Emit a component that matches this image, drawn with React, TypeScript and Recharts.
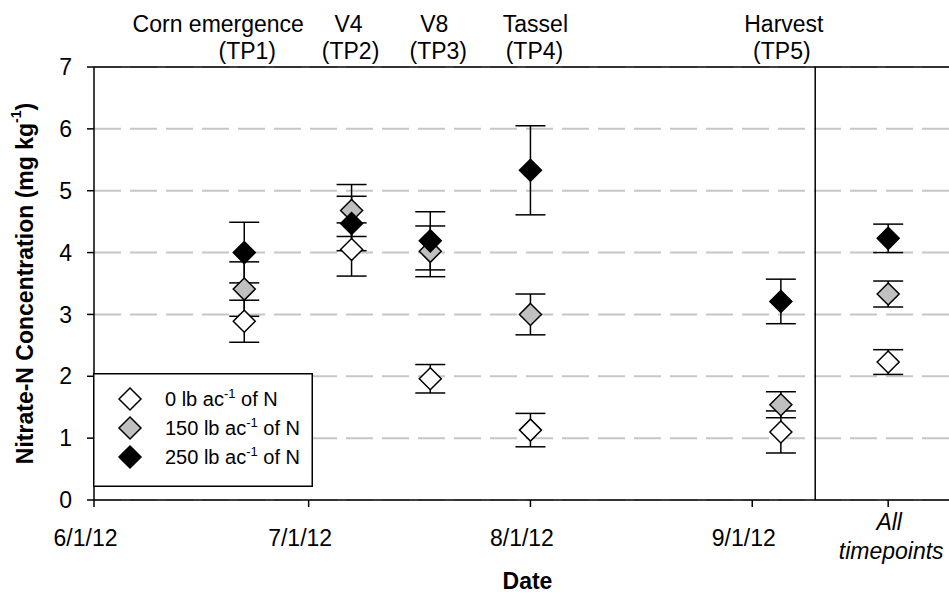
import React from 'react';
import {
  ComposedChart,
  Scatter,
  XAxis,
  YAxis,
  CartesianGrid,
  ErrorBar,
  ReferenceLine,
  Legend,
} from 'recharts';

const FONT = "'Liberation Sans', Arial, Helvetica, sans-serif";

// ---- data (x positions in days after 6/1/12) ----
const timepointDays = [21, 36, 47, 61, 96];
const allTimepointsDay = 111;
const separatorDay = 100.8;
const xDomainEnd = 119.5;

const stageNames = ['Corn emergence', 'V4', 'V8', 'Tassel', 'Harvest'];
const stageCodes = ['(TP1)', '(TP2)', '(TP3)', '(TP4)', '(TP5)'];

const dateTickDays = [0, 30, 61, 92];
const dateTickLabels = ['6/1/12', '7/1/12', '8/1/12', '9/1/12'];
const allTickLabel = ['All', 'timepoints'];
const mondayTicks = [3, 10, 17, 24, 31, 38, 45, 52, 59, 66, 73, 80, 87, 94, 101, 108, 115];

const yTicks = [0, 1, 2, 3, 4, 5, 6, 7];

const rates = [0, 150, 250];
// last value = "All timepoints"
const mean0 = [2.89, 4.05, 1.96, 1.13, 1.1, 2.23];
const se0 = [0.34, 0.43, 0.23, 0.27, 0.34, 0.2];
const mean150 = [3.41, 4.68, 4.02, 3.0, 1.54, 3.33];
const se150 = [0.44, 0.42, 0.41, 0.33, 0.21, 0.21];
const mean250 = [4.0, 4.47, 4.19, 5.33, 3.21, 4.23];
const se250 = [0.49, 0.44, 0.47, 0.72, 0.36, 0.23];

// ---- styling (not data) ----
const stageNameDx = [-26, -3, 4, 5, 3];
const stageCodeDx = [3, -1, 8, 4, 1];
const fills = ['#ffffff', '#c0c0c0', '#000000'];

const xs = [...timepointDays, allTimepointsDay];
const build = (mean: number[], se: number[]) => xs.map((x, i) => ({ x, y: mean[i], err: se[i] }));
const series = [
  { rate: rates[0], data: build(mean0, se0), fill: fills[0] },
  { rate: rates[1], data: build(mean150, se150), fill: fills[1] },
  { rate: rates[2], data: build(mean250, se250), fill: fills[2] },
];

const R = 11;
const makeDiamond = (fill: string) => (props: any) => {
  const { cx, cy } = props;
  if (cx == null || cy == null) return <g />;
  return (
    <polygon
      points={`${cx},${cy - R} ${cx + R},${cy} ${cx},${cy + R} ${cx - R},${cy}`}
      fill={fill}
      stroke="#000"
      strokeWidth={1.5}
    />
  );
};

const DateTick = (props: any) => {
  const { x, y, payload } = props;
  const idx = dateTickDays.indexOf(payload.value);
  if (idx >= 0) {
    return (
      <text x={x - 8.5} y={y + 37} textAnchor="middle" fontSize={23} fontFamily={FONT} fill="#000">
        {dateTickLabels[idx]}
      </text>
    );
  }
  return (
    <text textAnchor="middle" fontSize={23} fontFamily={FONT} fill="#000" fontStyle="italic">
      <tspan x={x + 1} y={y + 21}>{allTickLabel[0]}</tspan>
      <tspan x={x + 3} y={y + 50}>{allTickLabel[1]}</tspan>
    </text>
  );
};

const StageTick = (props: any) => {
  const { x, payload } = props;
  const idx = timepointDays.indexOf(payload.value);
  if (idx < 0) return <g />;
  return (
    <g>
      <text x={x + stageNameDx[idx]} y={32} textAnchor="middle" fontSize={23} fontFamily={FONT} fill="#000">
        {stageNames[idx]}
      </text>
      <text x={x + stageCodeDx[idx]} y={59} textAnchor="middle" fontSize={23} fontFamily={FONT} fill="#000">
        {stageCodes[idx]}
      </text>
    </g>
  );
};

const YLabel = (props: any) => {
  const vb = props.viewBox || { x: 0, y: 67, width: 94, height: 433 };
  const cx = 25;
  const cy = vb.y + vb.height / 2;
  return (
    <text
      x={cx}
      y={cy}
      transform={`rotate(-90, ${cx}, ${cy})`}
      textAnchor="middle"
      dominantBaseline="central"
      fontSize={23}
      fontWeight="bold"
      fontFamily={FONT}
      fill="#000"
    >
      Nitrate-N Concentration (mg kg
      <tspan dy={-9} fontSize={14}>-1</tspan>
      <tspan dy={9}>)</tspan>
    </text>
  );
};

const XLabel = (props: any) => {
  const vb = props.viewBox || { x: 94, y: 500, width: 855, height: 96 };
  return (
    <text
      x={vb.x + vb.width / 2 + 6}
      y={589}
      textAnchor="middle"
      fontSize={23}
      fontWeight="bold"
      fontFamily={FONT}
      fill="#000"
    >
      Date
    </text>
  );
};

const LegendBox = (props: any) => {
  const payload = props.payload || [];
  return (
    <svg width={220} height={114} style={{ display: 'block' }}>
      <rect x={0.75} y={0.75} width={218.5} height={112.5} fill="#fff" stroke="#000" strokeWidth={1.5} />
      {series.map((s, i) => {
        const cy = 26 + i * 29;
        const cx = 37;
        return (
          <g key={i}>
            <polygon
              points={`${cx},${cy - R} ${cx + R},${cy} ${cx},${cy + R} ${cx - R},${cy}`}
              fill={s.fill}
              stroke="#000"
              strokeWidth={1.5}
            />
            <text x={72} y={cy + 7} fontSize={20} fontFamily={FONT} fill="#000">
              {`${payload[i] ? s.rate : s.rate} lb ac`}
              <tspan dy={-8} fontSize={13}>-1</tspan>
              <tspan dy={8}> of N</tspan>
            </text>
          </g>
        );
      })}
    </svg>
  );
};

export default function App() {
  const axisStyle = { stroke: '#000', strokeWidth: 1.5 };
  return (
    <div style={{ position: 'absolute', left: 0, top: 0, width: 949, height: 596, background: '#fff' }}>
      <ComposedChart width={949} height={596} margin={{ top: 0, right: 0, bottom: 0, left: 0 }}>
        <CartesianGrid
          xAxisId="date"
          horizontal
          vertical={false}
          stroke="#c6c6c6"
          strokeWidth={2}
          strokeDasharray="27 9"
        />
        <XAxis
          xAxisId="date"
          type="number"
          dataKey="x"
          domain={[0, xDomainEnd]}
          allowDataOverflow
          ticks={[...dateTickDays, allTimepointsDay]}
          interval={0}
          height={96}
          tickSize={7}
          tickMargin={2}
          axisLine={axisStyle}
          tickLine={axisStyle}
          tick={<DateTick />}
          label={<XLabel />}
        />
        <XAxis
          xAxisId="stage"
          orientation="top"
          type="number"
          dataKey="x"
          domain={[0, xDomainEnd]}
          allowDataOverflow
          ticks={timepointDays}
          interval={0}
          height={67}
          tickSize={0}
          tickLine={false}
          axisLine={axisStyle}
          tick={<StageTick />}
        />
        <XAxis
          xAxisId="minorBottom"
          orientation="bottom"
          mirror
          type="number"
          dataKey="x"
          domain={[0, xDomainEnd]}
          allowDataOverflow
          ticks={mondayTicks}
          interval={0}
          tickSize={3}
          axisLine={false}
          tickLine={{ stroke: '#000', strokeWidth: 1 }}
          tick={false}
        />
        <XAxis
          xAxisId="minorTop"
          orientation="top"
          mirror
          type="number"
          dataKey="x"
          domain={[0, xDomainEnd]}
          allowDataOverflow
          ticks={mondayTicks}
          interval={0}
          tickSize={3}
          axisLine={false}
          tickLine={{ stroke: '#000', strokeWidth: 1 }}
          tick={false}
        />
        <YAxis
          type="number"
          dataKey="y"
          domain={[0, 7]}
          ticks={yTicks}
          interval={0}
          width={94}
          tickSize={7}
          tickMargin={15}
          axisLine={axisStyle}
          tickLine={axisStyle}
          tick={{ fontSize: 23, fill: '#000', fontFamily: FONT }}
          label={<YLabel />}
        />
        <ReferenceLine xAxisId="date" x={separatorDay} stroke="#000" strokeWidth={1.5} />
        {series.map((s) => (
          <Scatter
            key={s.rate}
            xAxisId="date"
            name={`${s.rate} lb ac-1 of N`}
            data={s.data}
            fill={s.fill}
            shape={makeDiamond(s.fill)}
            isAnimationActive={false}
          >
            <ErrorBar
              dataKey="err"
              direction="y"
              width={15}
              stroke="#000"
              strokeWidth={1.5}
              isAnimationActive={false}
            />
          </Scatter>
        ))}
        <Legend
          layout="vertical"
          align="center"
          verticalAlign="middle"
          content={<LegendBox />}
          wrapperStyle={{ left: 93, top: 373, width: 220, height: 114 }}
        />
      </ComposedChart>
    </div>
  );
}
